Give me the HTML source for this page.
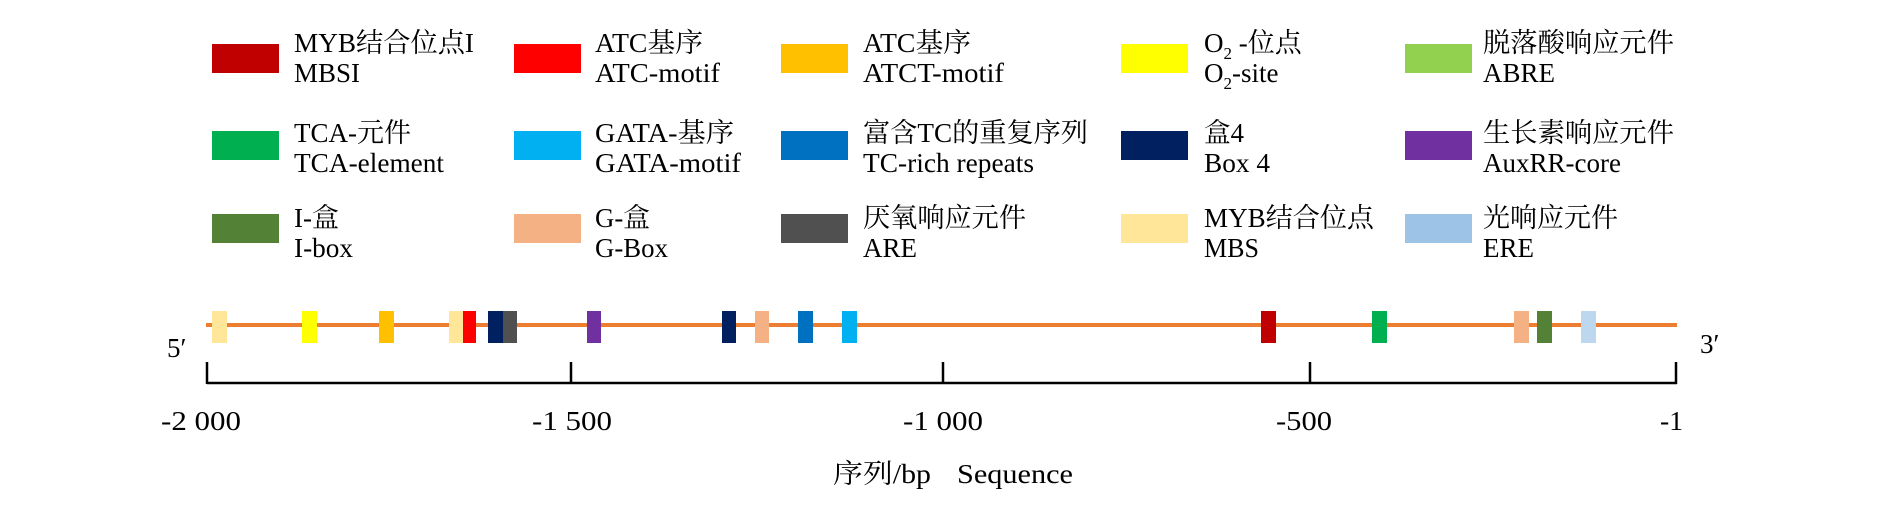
<!DOCTYPE html>
<html><head><meta charset="utf-8"><style>
html,body{margin:0;padding:0;background:#fff;}
svg{display:block}
text{font-family:"Liberation Serif","Noto Serif CJK SC","Noto Sans CJK SC",serif;font-size:27px;fill:#000}
</style></head><body>
<svg width="1890" height="505" viewBox="0 0 1890 505" xmlns="http://www.w3.org/2000/svg">
<!-- legend swatches -->
<g>
<rect x="212" y="44" width="67" height="29" fill="#C00000"/>
<rect x="514" y="44" width="67" height="29" fill="#FF0000"/>
<rect x="781" y="44" width="67" height="29" fill="#FFC000"/>
<rect x="1121" y="44" width="67" height="29" fill="#FFFF00"/>
<rect x="1405" y="44" width="67" height="29" fill="#92D050"/>

<rect x="212" y="131" width="67" height="29" fill="#00B050"/>
<rect x="514" y="131" width="67" height="29" fill="#00B0F0"/>
<rect x="781" y="131" width="67" height="29" fill="#0070C0"/>
<rect x="1121" y="131" width="67" height="29" fill="#002060"/>
<rect x="1405" y="131" width="67" height="29" fill="#7030A0"/>

<rect x="212" y="214" width="67" height="29" fill="#538135"/>
<rect x="514" y="214" width="67" height="29" fill="#F4B183"/>
<rect x="781" y="214" width="67" height="29" fill="#505050"/>
<rect x="1121" y="214" width="67" height="29" fill="#FFE699"/>
<rect x="1405" y="214" width="67" height="29" fill="#9DC3E6"/>
</g>
<!-- legend text -->
<text x="294" y="52" textLength="180" lengthAdjust="spacingAndGlyphs">MYB结合位点I</text>
<text x="294" y="82" textLength="66" lengthAdjust="spacingAndGlyphs">MBSI</text>
<text x="294" y="142" textLength="117" lengthAdjust="spacingAndGlyphs">TCA-元件</text>
<text x="294" y="172" textLength="150" lengthAdjust="spacingAndGlyphs">TCA-element</text>
<text x="294" y="227" textLength="45" lengthAdjust="spacingAndGlyphs">I-盒</text>
<text x="294" y="257" textLength="59" lengthAdjust="spacingAndGlyphs">I-box</text>

<text x="595" y="52" textLength="108" lengthAdjust="spacingAndGlyphs">ATC基序</text>
<text x="595" y="82" textLength="125" lengthAdjust="spacingAndGlyphs">ATC-motif</text>
<text x="595" y="142" textLength="139" lengthAdjust="spacingAndGlyphs">GATA-基序</text>
<text x="595" y="172" textLength="146" lengthAdjust="spacingAndGlyphs">GATA-motif</text>
<text x="595" y="227" textLength="55" lengthAdjust="spacingAndGlyphs">G-盒</text>
<text x="595" y="257" textLength="73" lengthAdjust="spacingAndGlyphs">G-Box</text>

<text x="863" y="52" textLength="108" lengthAdjust="spacingAndGlyphs">ATC基序</text>
<text x="863" y="82" textLength="141" lengthAdjust="spacingAndGlyphs">ATCT-motif</text>
<text x="863" y="142" textLength="225" lengthAdjust="spacingAndGlyphs">富含TC的重复序列</text>
<text x="863" y="172" textLength="171" lengthAdjust="spacingAndGlyphs">TC-rich repeats</text>
<text x="863" y="227" textLength="163" lengthAdjust="spacingAndGlyphs">厌氧响应元件</text>
<text x="863" y="257" textLength="54" lengthAdjust="spacingAndGlyphs">ARE</text>

<text x="1204" y="52">O<tspan font-size="17" dy="7">2</tspan><tspan dy="-7"> -位点</tspan></text>
<text x="1204" y="82">O<tspan font-size="17" dy="7">2</tspan><tspan dy="-7">-site</tspan></text>
<text x="1204" y="142" textLength="40" lengthAdjust="spacingAndGlyphs">盒4</text>
<text x="1204" y="172" textLength="66" lengthAdjust="spacingAndGlyphs">Box 4</text>
<text x="1204" y="227" textLength="170" lengthAdjust="spacingAndGlyphs">MYB结合位点</text>
<text x="1204" y="257" textLength="55" lengthAdjust="spacingAndGlyphs">MBS</text>

<text x="1483" y="52" textLength="191" lengthAdjust="spacingAndGlyphs">脱落酸响应元件</text>
<text x="1483" y="82" textLength="72" lengthAdjust="spacingAndGlyphs">ABRE</text>
<text x="1483" y="142" textLength="191" lengthAdjust="spacingAndGlyphs">生长素响应元件</text>
<text x="1483" y="172" textLength="138" lengthAdjust="spacingAndGlyphs">AuxRR-core</text>
<text x="1483" y="227" textLength="135" lengthAdjust="spacingAndGlyphs">光响应元件</text>
<text x="1483" y="257" textLength="51" lengthAdjust="spacingAndGlyphs">ERE</text>

<!-- sequence line -->
<line x1="206" y1="325" x2="1677" y2="325" stroke="#ED7D31" stroke-width="4"/>
<g>
<rect x="212" y="311" width="15" height="32" fill="#FFE699"/>
<rect x="302" y="311" width="15" height="32" fill="#FFFF00"/>
<rect x="379" y="311" width="15" height="32" fill="#FFC000"/>
<rect x="449" y="311" width="14" height="32" fill="#FFE699"/>
<rect x="463" y="311" width="13" height="32" fill="#FF0000"/>
<rect x="488" y="311" width="15" height="32" fill="#002060"/>
<rect x="503" y="311" width="14" height="32" fill="#505050"/>
<rect x="587" y="311" width="14" height="32" fill="#7030A0"/>
<rect x="722" y="311" width="14" height="32" fill="#002060"/>
<rect x="755" y="311" width="14" height="32" fill="#F4B183"/>
<rect x="798" y="311" width="15" height="32" fill="#0070C0"/>
<rect x="842" y="311" width="15" height="32" fill="#00B0F0"/>
<rect x="1261" y="311" width="15" height="32" fill="#C00000"/>
<rect x="1372" y="311" width="15" height="32" fill="#00B050"/>
<rect x="1514" y="311" width="15" height="32" fill="#F4B183"/>
<rect x="1537" y="311" width="15" height="32" fill="#538135"/>
<rect x="1581" y="311" width="15" height="32" fill="#BDD7EE"/>
</g>
<text x="167" y="357">5′</text>
<text x="1700" y="353">3′</text>

<!-- axis -->
<g stroke="#000" stroke-width="2.5" fill="none">
<line x1="207" y1="383" x2="1677" y2="383"/>
<line x1="207" y1="362" x2="207" y2="384"/>
<line x1="571" y1="362" x2="571" y2="384"/>
<line x1="943" y1="362" x2="943" y2="384"/>
<line x1="1310" y1="362" x2="1310" y2="384"/>
<line x1="1676" y1="362" x2="1676" y2="384"/>
</g>
<text x="161" y="430" textLength="80" lengthAdjust="spacingAndGlyphs">-2 000</text>
<text x="532" y="430" textLength="80" lengthAdjust="spacingAndGlyphs">-1 500</text>
<text x="903" y="430" textLength="80" lengthAdjust="spacingAndGlyphs">-1 000</text>
<text x="1276" y="430" textLength="56" lengthAdjust="spacingAndGlyphs">-500</text>
<text x="1660" y="430" textLength="23" lengthAdjust="spacingAndGlyphs">-1</text>

<text x="833" y="483" textLength="98" lengthAdjust="spacingAndGlyphs">序列/bp</text>
<text x="957" y="483" textLength="116" lengthAdjust="spacingAndGlyphs">Sequence</text>
</svg>
</body></html>
